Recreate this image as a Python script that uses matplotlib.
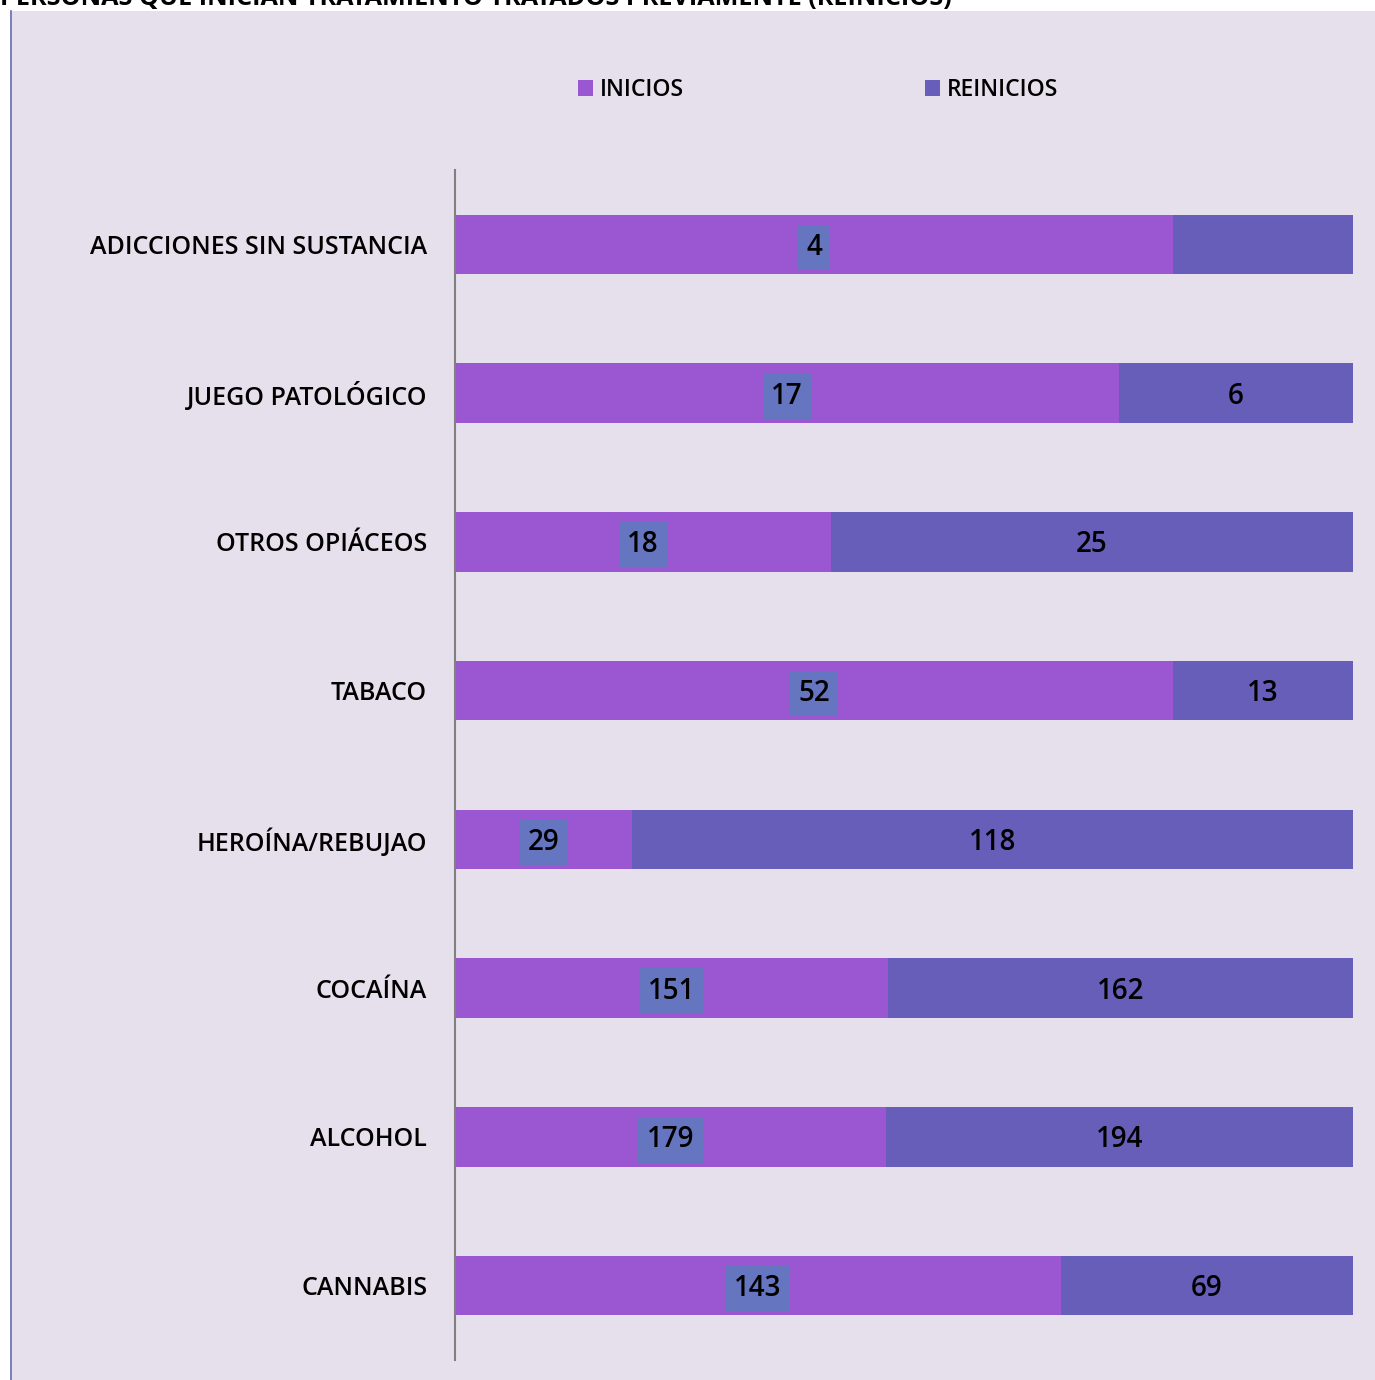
import numpy as np
import matplotlib.pyplot as plt
from matplotlib.patches import Rectangle

# Datos (de abajo hacia arriba)
categorias = ['CANNABIS', 'ALCOHOL', 'COCAÍNA', 'HEROÍNA/REBUJAO',
              'TABACO', 'OTROS OPIÁCEOS', 'JUEGO PATOLÓGICO',
              'ADICCIONES SIN SUSTANCIA']
inicios = [143, 179, 151, 29, 52, 18, 17, 4]
reinicios = [69, 194, 162, 118, 13, 25, 6, 1]
etiquetas_reinicios = ['69', '194', '162', '118', '13', '25', '6', '']

titulo = 'PERSONAS QUE INICIAN TRATAMIENTO TRATADOS PREVIAMENTE (REINICIOS)'

col_ini = '#9B56D2'
col_rei = '#665EB8'
col_caja = '#6675C0'
fondo = '#E6E0EC'

plt.rcParams['font.family'] = ['Open Sans', 'DejaVu Sans']

W, H = 1375, 1380
fig = plt.figure(figsize=(W / 100, H / 100), dpi=100)

# fondo del área del gráfico
fig.patches.append(Rectangle((10 / W, 0), 1 - 10 / W, 1 - 11 / H,
                             transform=fig.transFigure, facecolor=fondo,
                             edgecolor='none', zorder=-5))
fig.lines.append(plt.Line2D([10.5 / W, 10.5 / W], [0, 1 - 11 / H],
                            transform=fig.transFigure, color='#6A6AB8', lw=1.2))

# título cortado arriba
fig.text(0.0, 1 - 5 / H, titulo, fontsize=18.2, fontweight='bold',
         va='baseline', ha='left')

ax = fig.add_axes([455 / W, 20 / H, (1353 - 455) / W, (1210 - 20) / H])
ax.set_facecolor('none')
ax.set_zorder(5)

total = np.array(inicios) + np.array(reinicios)
p_ini = np.array(inicios) / total
p_rei = np.array(reinicios) / total
y = np.arange(len(categorias))

ax.barh(y, p_ini, height=0.4, color=col_ini, label='INICIOS')
ax.barh(y, p_rei, left=p_ini, height=0.4, color=col_rei, label='REINICIOS')

for i in range(len(categorias)):
    ax.text(p_ini[i] / 2, y[i] - 0.02, str(inicios[i]), ha='center', va='center',
            fontsize=20, fontweight='semibold',
            bbox=dict(boxstyle='square,pad=0.3', facecolor=col_caja,
                      edgecolor='none'))
    if etiquetas_reinicios[i]:
        ax.text(p_ini[i] + p_rei[i] / 2, y[i] - 0.02, etiquetas_reinicios[i],
                ha='center', va='center', fontsize=20, fontweight='semibold')

ax.set_xlim(0, 1)
ax.set_ylim(-0.5, len(categorias) - 0.5)
ax.set_yticks(y)
ax.set_yticklabels(categorias, fontsize=18, fontweight='semibold')
ax.tick_params(axis='y', length=0, pad=20)
ax.set_xticks([])
for s in ['top', 'right', 'bottom']:
    ax.spines[s].set_visible(False)
ax.spines['left'].set_color('#808080')
ax.spines['left'].set_linewidth(1.5)

leg = fig.legend(loc='center', bbox_to_anchor=(818 / W, 1 - 90 / H), ncol=2,
                 frameon=False, handlelength=0.65, handleheight=0.65,
                 handletextpad=0.3, columnspacing=10.5,
                 prop={'weight': 'semibold', 'size': 16.5})
leg.set_zorder(6)

fig.savefig('out.png', dpi=100)
